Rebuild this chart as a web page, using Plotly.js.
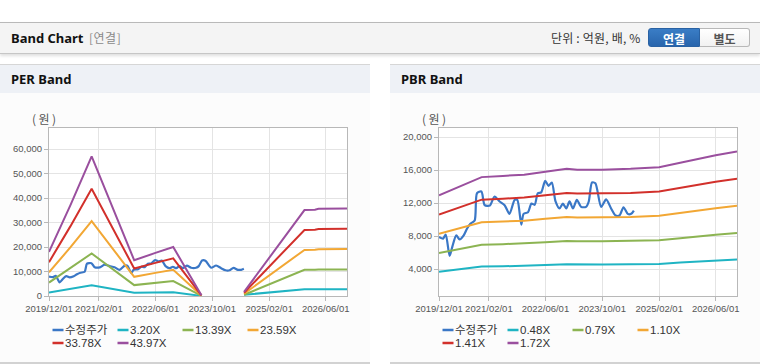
<!DOCTYPE html>
<html><head><meta charset="utf-8">
<script src="https://cdn.plot.ly/plotly-3.0.1.min.js"></script>
<style>
html,body{margin:0;padding:0;}
body{width:760px;height:364px;background:#fff;overflow:hidden;position:relative;font-family:"Liberation Sans","Noto Sans CJK KR",sans-serif;}
#hdr{position:absolute;left:0;top:22px;width:760px;height:30px;background:#f4f4f4;border-top:1px solid #b9b9b9;border-bottom:1px solid #c6c6c6;box-shadow:0 2px 3px rgba(0,0,0,0.13);}
#hdr .t{position:absolute;left:11px;top:0;line-height:30px;font-size:13px;font-weight:bold;color:#111;font-family:"Noto Sans","Noto Sans CJK KR",sans-serif;}
#hdr .s{position:absolute;left:89px;top:0;line-height:30px;font-size:12px;color:#8a8a8a;font-family:"Noto Sans CJK KR",sans-serif;letter-spacing:0.5px;}
#hdr .u{position:absolute;left:551px;top:0;line-height:30px;font-size:12px;color:#333;font-family:"Noto Sans CJK KR",sans-serif;letter-spacing:0.2px;}
.btn{position:absolute;top:5px;height:19px;line-height:19px;text-align:center;font-size:12px;font-weight:bold;font-family:"Noto Sans CJK KR",sans-serif;box-sizing:border-box;}
#b1{left:648px;width:52px;background:linear-gradient(#3a7dc6,#2865ac);color:#fff;border:1px solid #2a62a3;border-radius:3px 0 0 3px;}
#b2{left:700px;width:50px;background:linear-gradient(#ffffff,#f1f1f1);color:#555;border:1px solid #b8b8b8;border-left:none;border-radius:0 3px 3px 0;}
.panel{position:absolute;top:64px;width:370px;height:297px;border-top:1px solid #d6d6d6;border-bottom:2px solid #d2d2d2;background:#fcfcfc;}
.panel .ph{height:28px;line-height:28px;background:#eef1f6;padding-left:11px;font-size:13px;font-weight:bold;color:#111;font-family:"Noto Sans","Noto Sans CJK KR",sans-serif;}
.chart{position:absolute;top:92px;width:370px;height:270px;}
</style></head>
<body>
<div id="hdr"><span class="t">Band Chart</span><span class="s">[연결]</span><span class="u">단위 : 억원, 배, %</span><div class="btn" id="b1">연결</div><div class="btn" id="b2">별도</div></div>
<div class="panel" style="left:0"><div class="ph">PER Band</div></div>
<div class="panel" style="left:390px"><div class="ph">PBR Band</div></div>
<div class="chart" id="per" style="left:0"></div>
<div class="chart" id="pbr" style="left:390px"></div>
<script>
// ---- data ----
const priceDates = ['2019-12-01','2020-01-05','2020-01-28','2020-03-01','2020-03-24','2020-04-27','2020-05-26','2020-06-30','2020-07-28','2020-08-26','2020-10-02','2020-10-22','2020-11-29','2020-12-27','2021-02-09','2021-03-22','2021-05-04','2021-06-16','2021-07-28','2021-09-10','2021-10-03','2021-11-06','2021-11-26','2022-01-03','2022-02-01','2022-03-01','2022-03-28','2022-04-26','2022-05-30','2022-06-28','2022-07-26','2022-08-27','2022-09-30','2022-10-29','2022-11-27','2022-12-25','2023-01-23','2023-02-26','2023-04-03','2023-05-16','2023-06-08','2023-07-06','2023-08-04','2023-09-22','2023-11-04','2023-12-17','2024-01-24','2024-02-27','2024-04-01','2024-05-08','2024-06-06','2024-06-29'];
const priceValues = [7900,7700,8200,5600,6700,8100,7600,8100,8900,9500,9900,13200,13400,11750,11700,12800,12200,11750,10700,12400,12400,9400,10700,10900,11950,11800,13200,13300,14700,14100,14500,12200,11350,11950,11350,12200,11350,12400,11550,11550,12200,14500,14400,11550,12450,11350,10500,10500,11500,10700,10700,11100];

const perDates = ['2019-12-01','2020-06-01','2020-12-01','2021-12-01','2022-06-01','2022-11-01','2023-07-01','2024-01-01','2024-07-01','2025-12-01','2026-03-01','2026-04-01','2026-12-01'];
const perNames = ['수정주가','3.20X','13.39X','23.59X','33.78X','43.97X'];
const per320  = [1450,2850,4350,1300,1400,1500,50,null,500,2750,2750,2800,2800];
const per1339 = [5480,11270,17360,4450,5360,6090,90,null,520,10690,10720,10840,10870];
const per2359 = [9660,19850,30580,7830,9440,10730,160,null,910,18830,18880,19100,19150];
const per3378 = [13830,28430,43790,11220,13520,15370,230,null,1310,26970,27040,27350,27430];
const per4397 = [18000,37000,57000,14600,17600,20000,300,null,1700,35100,35200,35600,35700];

const pbrDates = ['2019-12-01','2020-06-01','2020-12-01','2021-06-01','2021-12-01','2022-06-01','2022-12-01','2023-03-01','2023-10-01','2024-06-01','2025-02-01','2025-08-01','2026-02-01','2026-06-01','2026-12-01'];
const pbrNames = ['수정주가','0.48X','0.79X','1.10X','1.41X','1.72X'];
const pbr048 = [3690,4000,4310,4350,4390,4490,4590,4560,4560,4590,4640,4800,4960,5050,5170];
const pbr079 = [5950,6450,6960,7030,7100,7260,7420,7370,7370,7420,7510,7760,8040,8180,8380];
const pbr110 = [8280,8990,9690,9780,9880,10100,10330,10260,10260,10330,10460,10810,11190,11380,11670];
const pbr141 = [10620,11520,12420,12540,12670,12950,13240,13160,13160,13240,13400,13850,14350,14590,14960];
const pbr172 = [12950,14050,15150,15300,15450,15800,16150,16050,16050,16150,16350,16900,17500,17800,18250];

const xTickVals = ['2019-12-01','2021-02-01','2022-06-01','2023-10-01','2025-02-01','2026-06-01'];
const xTickText = ['2019/12/01','2021/02/01','2022/06/01','2023/10/01','2025/02/01','2026/06/01'];
const perYTicks = [0,10000,20000,30000,40000,50000,60000];
const pbrYTicks = [4000,8000,12000,16000,20000];
const yUnit = '(\u2009원\u2009)';

const colors = ['#3a77c6','#1fb4c3','#8cb452','#f2a734','#d2302b','#9a4f9e'];

// ---- drawing ----
const ML = 49, MT = 36, PW = 298, PH = 168;
function build(divId, bandDates, bands, names, yRange, yTicks){
  const traces = [{x: priceDates, y: priceValues, type:'scatter', mode:'lines', name:names[0],
    line:{color:colors[0], width:2.2, shape:'spline', smoothing:0.7}}];
  bands.forEach((b,i)=>traces.push({x: bandDates, y: b, type:'scatter', mode:'lines', name:names[i+1],
    line:{color:colors[i+1], width:2}, connectgaps:false}));
  const shapes = [], ann = [];
  ann.push({xref:'paper', yref:'paper', x:0, y:1, xshift:-5, yshift:10, xanchor:'center', yanchor:'middle',
    text:yUnit, showarrow:false, font:{size:12, color:'#555', family:'Noto Sans CJK KR'}});
  names.forEach((n,i)=>{
    const col = i%4, row = Math.floor(i/4);
    const sx = 52.5 + 65*col, sy = 238 + 13*row;
    shapes.push({type:'line', xref:'paper', yref:'paper', xsizemode:'pixel', ysizemode:'pixel',
      xanchor:0, yanchor:0, x0:sx-ML, x1:sx-ML+11, y0:(MT+PH)-sy, y1:(MT+PH)-sy,
      line:{color:colors[i], width:2.5}});
    ann.push({xref:'paper', yref:'paper', x:0, y:0, xanchor:'left', yanchor:'middle',
      xshift:sx-ML+10, yshift:(MT+PH)-sy, text:n, showarrow:false,
      font:{size:11.5, color:'#333', family:'Liberation Sans, Noto Sans CJK KR'}});
  });
  const axBase = {showgrid:true, gridcolor:'#e4e4e4', gridwidth:1, showline:true, linecolor:'#b8b8b8', linewidth:1,
    mirror:true, ticks:'outside', ticklen:4, tickcolor:'#b8b8b8', zeroline:false, fixedrange:true,
    tickangle:0, tickfont:{size:9.5, color:'#555', family:'Liberation Sans'}};
  const layout = {
    width:370, height:270, margin:{l:ML, r:370-ML-PW, t:MT, b:270-MT-PH},
    paper_bgcolor:'rgba(0,0,0,0)', plot_bgcolor:'#ffffff', showlegend:false, hovermode:false,
    xaxis: Object.assign({}, axBase, {type:'date', range:['2019-12-01','2026-12-01'], tickmode:'array',
      tickvals:xTickVals, ticktext:xTickText}),
    yaxis: Object.assign({}, axBase, {range:yRange, tickmode:'array', tickvals:yTicks, tickformat:',d'}),
    shapes: shapes, annotations: ann
  };
  Plotly.newPlot(divId, traces, layout, {staticPlot:true, displayModeBar:false});
}
build('per', perDates, [per320,per1339,per2359,per3378,per4397], perNames, [0,68600], perYTicks);
build('pbr', pbrDates, [pbr048,pbr079,pbr110,pbr141,pbr172], pbrNames, [750,21100], pbrYTicks);
</script>
</body></html>
